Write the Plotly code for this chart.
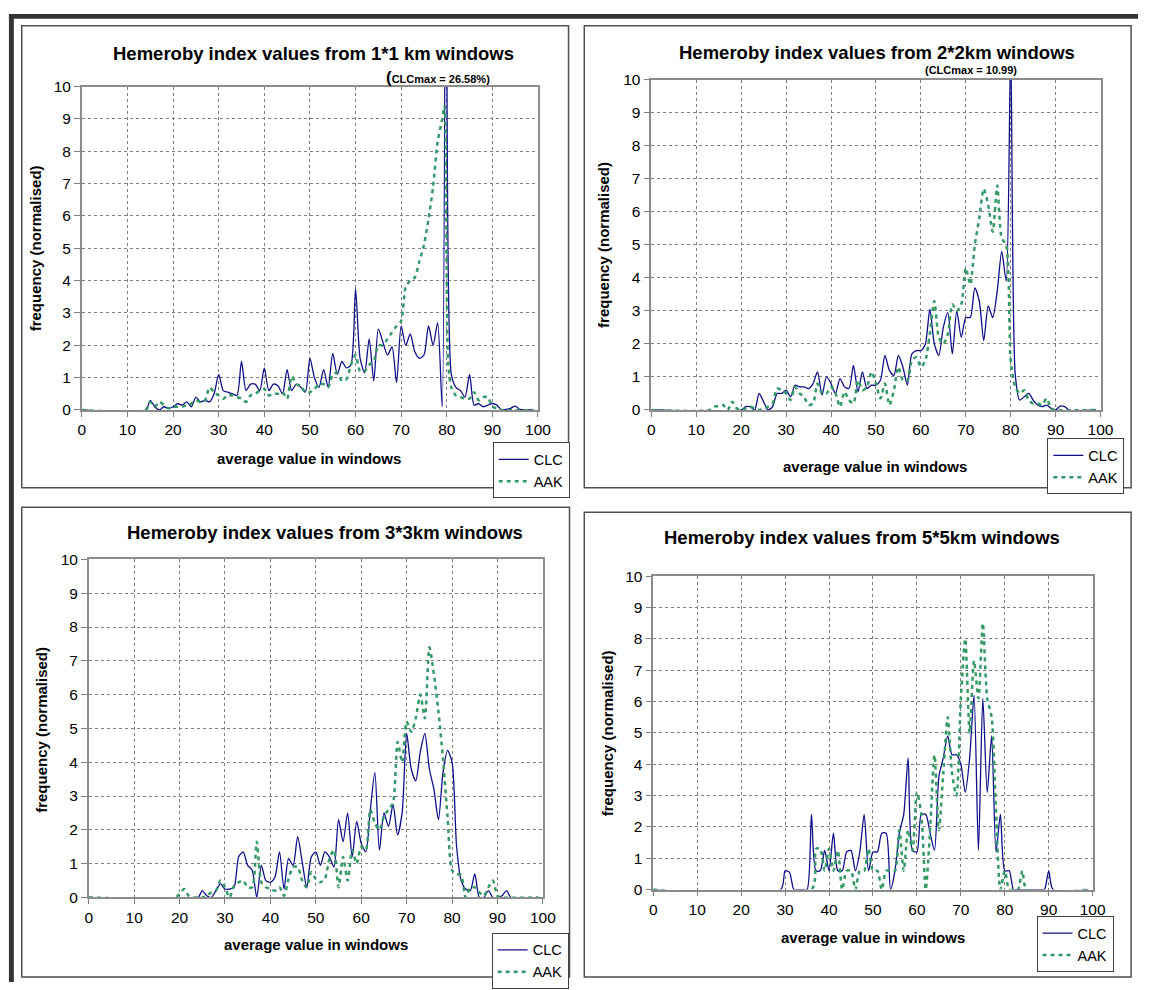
import plotly.graph_objects as go

# ---------------- data ----------------
# Panel 1: 1*1 km windows
p1_clc_x = [0] + list(range(14, 99)) + [99]
p1_clc_y = [0,
            0.0, 0.3, 0.1, 0.0, 0.1, 0.05,                              # 14-19
            0.1, 0.2, 0.15, 0.25, 0.1, 0.4, 0.25, 0.3, 0.25, 0.5,       # 20-29
            1.1, 0.6, 0.55, 0.5, 0.45, 1.5, 0.6, 0.8, 0.8, 0.6,         # 30-39
            1.3, 0.6, 0.8, 0.75, 0.5, 1.25, 0.6, 0.8, 0.7, 0.55,        # 40-49
            1.6, 1.0, 0.7, 1.25, 0.7, 1.75, 1.1, 1.5, 1.3, 1.4,         # 50-59
            3.75, 1.6, 1.15, 2.2, 0.9, 2.5, 2.1, 1.7, 1.95, 0.85,       # 60-69
            2.6, 2.0, 2.35, 1.8, 1.6, 1.7, 2.6, 2.0, 2.7, 0.1,          # 70-79
            26.58, 1.1, 0.7, 0.6, 0.4, 1.1, 0.15, 0.2, 0.1, 0.15,       # 80-89
            0.2, 0.15, 0.0, 0.02, 0.05, 0.12, 0.02, 0.0, 0.0,           # 90-98
            0]
p1_aak_x = ([0] + list(range(14, 79)) + [79, 79.5, 80.3] + list(range(81, 93)) + [99])
p1_aak_y = [0,
            0.0, 0.25, 0.1, 0.25, 0.15, 0.05,                           # 14-19
            0.1, 0.1, 0.1, 0.15, 0.2, 0.3, 0.25, 0.3, 0.7, 0.55,        # 20-29
            0.45, 0.35, 0.45, 0.45, 0.4, 0.35, 0.25, 0.45, 0.5, 0.6,    # 30-39
            0.65, 0.45, 0.5, 0.5, 0.55, 0.35, 1.05, 0.8, 0.75, 0.55,    # 40-49
            0.55, 0.65, 0.8, 0.8, 0.7, 1.1, 1.15, 0.9, 0.95, 1.4,       # 50-59
            1.7, 1.2, 1.2, 1.4, 1.5, 2.0, 2.0, 2.2, 2.4, 2.6,           # 60-69
            2.75, 3.8, 4.0, 4.1, 4.6, 5.1, 5.9, 6.9, 8.3,               # 70-78
            9.0, 9.4, 1.5,                                              # 79, 79.5, 80.3
            0.7, 0.45, 0.4, 0.35, 0.35, 0.55, 0.3, 0.4, 0.4, 0.1,       # 81-90
            0.05, 0.0,                                                  # 91-92
            0]

# Panel 2: 2*2 km windows
p2_clc_x = [0] + list(range(20, 94)) + [99]
p2_clc_y = [0,
            0.0, 0.1, 0.1, 0.0, 0.5, 0.25, 0.0, 0.1, 0.5, 0.5,          # 20-29
            0.6, 0.4, 0.75, 0.7, 0.7, 0.65, 0.8, 1.15, 0.45, 1.0,       # 30-39
            0.8, 0.5, 0.95, 0.7, 0.65, 1.35, 0.55, 1.15, 0.65, 0.75,    # 40-49
            0.75, 0.9, 1.65, 1.2, 1.05, 1.65, 1.3, 0.75, 1.7, 1.8,      # 50-59
            1.8, 2.0, 3.05, 2.0, 1.65, 2.5, 2.95, 1.7, 3.0, 2.2,        # 60-69
            2.8, 2.8, 3.7, 3.3, 2.1, 3.15, 2.8, 3.6, 4.8, 3.9,          # 70-79
            10.99, 1.1, 0.3, 0.4, 0.5, 0.3, 0.15, 0.1, 0.15, 0.05,      # 80-89
            0.0, 0.12, 0.1, 0.0,                                        # 90-93
            0]
p2_aak_x = [0] + list(range(13, 91)) + [99]
p2_aak_y = [0,
            0.0, 0.1, 0.12, 0.15, 0.0, 0.25, 0.05,                      # 13-19
            0.0, 0.05, 0.1, 0.05, 0.0, 0.05, 0.1, 0.2, 0.65, 0.6,       # 20-29
            0.5, 0.3, 0.7, 0.5, 0.4, 0.15, 0.2, 0.8, 0.5, 0.5,          # 30-39
            0.7, 0.5, 0.1, 0.55, 0.3, 0.2, 0.9, 0.6, 0.7, 1.15,         # 40-49
            0.8, 0.35, 0.8, 0.15, 0.6, 1.3, 0.9, 0.9, 1.5, 1.6,         # 50-59
            1.3, 1.5, 2.3, 3.3, 2.2, 2.0, 2.3, 3.2, 3.0, 3.2,           # 60-69
            4.3, 3.8, 5.0, 5.8, 6.7, 6.2, 5.4, 6.8, 5.2, 5.0,           # 70-79
            1.5, 0.7, 0.5, 0.6, 0.3, 0.2, 0.2, 0.15, 0.35, 0.05,        # 80-89
            0.0,                                                        # 90
            0]

# Panel 3: 3*3 km windows
p3_clc_x = [0] + list(range(24, 94)) + [99]
p3_clc_y = [0,
            0.0, 0.2, 0.05, 0.0, 0.2, 0.4,                              # 24-29
            0.25, 0.25, 0.3, 1.2, 1.35, 0.95, 0.8, 0.0, 0.95, 0.5,      # 30-39
            0.45, 0.6, 1.35, 0.25, 1.15, 0.95, 1.8, 1.05, 0.3, 1.2,     # 40-49
            1.35, 0.95, 1.35, 1.2, 0.9, 2.3, 1.65, 2.5, 1.2, 2.25,      # 50-59
            1.6, 1.35, 2.6, 3.7, 1.4, 2.5, 2.1, 2.75, 1.85, 2.5,        # 60-69
            4.85, 3.8, 3.45, 4.3, 4.85, 3.8, 3.2, 2.3, 3.7, 4.35,       # 70-79
            4.0, 1.5, 0.5, 0.25, 0.2, 0.7, 0.0, 0.0, 0.2, 0.0,          # 80-89
            0.0, 0.05, 0.2, 0.0,                                        # 90-93
            0]
p3_aak_x = [0] + list(range(19, 92)) + [99]
p3_aak_y = [0,
            0.0,                                                        # 19
            0.1, 0.25, 0.05, 0.0, 0.0, 0.0, 0.05, 0.15, 0.2, 0.5,       # 20-29
            0.3, 0.0, 0.35, 0.45, 0.5, 0.3, 0.3, 1.65, 0.45, 0.3,       # 30-39
            0.25, 0.2, 0.3, 0.05, 0.55, 0.9, 0.9, 0.5, 0.3, 0.75,       # 40-49
            0.55, 0.45, 0.55, 1.15, 1.4, 0.3, 1.2, 0.5, 1.4, 1.0,       # 50-59
            1.5, 1.4, 2.6, 2.2, 2.0, 2.4, 2.6, 2.8, 4.6, 4.0,           # 60-69
            5.2, 4.9, 5.3, 6.0, 5.3, 7.4, 6.6, 5.5, 4.1, 2.4,           # 70-79
            0.8, 0.7, 0.65, 0.0, 0.3, 0.3, 0.15, 0.05, 0.3, 0.5,        # 80-89
            0.05, 0.0,                                                  # 90-91
            0]

# Panel 4: 5*5 km windows
p4_clc_x = [0] + list(range(29, 92)) + [99]
p4_clc_y = [0,
            0.0,                                                        # 29
            0.6, 0.55, 0.0, 0.0, 0.0, 0.0, 2.4, 0.6, 0.6, 1.25,         # 30-39
            0.6, 1.8, 0.6, 0.6, 1.2, 1.25, 0.6, 1.2, 2.4, 0.6,          # 40-49
            1.2, 1.2, 1.8, 1.8, 0.0, 0.6, 1.8, 2.4, 4.2, 1.25,          # 50-59
            1.2, 2.4, 2.4, 1.8, 1.25, 3.6, 4.2, 4.9, 4.3, 4.3,          # 60-69
            4.0, 3.1, 4.2, 6.2, 1.25, 6.1, 3.1, 4.9, 1.2, 2.4,          # 70-79
            0.6, 0.6, 0.0, 0.0, 0.0, 0.0, 0.0, 0.0, 0.0, 0.0,           # 80-89
            0.6, 0.0,                                                   # 90-91
            0]
p4_aak_x = [0] + list(range(36, 86)) + [99]
p4_aak_y = [0,
            0.0, 1.3, 1.3, 0.6,                                         # 36-39
            1.3, 0.6, 1.25, 0.0, 0.6, 0.6, 0.0, 0.6, 0.6, 1.3,          # 40-49
            0.6, 0.6, 0.0, 0.6, 0.6, 0.6, 1.9, 0.6, 1.9, 1.25,          # 50-59
            3.1, 2.4, 0.0, 1.9, 4.3, 1.9, 3.7, 5.5, 3.7, 3.0,           # 60-69
            6.1, 8.0, 5.0, 7.3, 6.1, 8.5, 6.1, 5.5, 2.5, 0.0,           # 70-79
            0.6, 0.0, 0.0, 0.0, 0.6, 0.0,                               # 80-85
            0]

titles = ["Hemeroby index values from 1*1 km windows",
          "Hemeroby index values from 2*2km windows",
          "Hemeroby index values from 3*3km windows",
          "Hemeroby index values from 5*5km windows"]
clc_max_notes = ["<span style='font-size:17px'>(</span>CLCmax = 26.58%)",
                 "(CLCmax = 10.99)", None, None]
x_title = "average value in windows"
y_title = "frequency (normalised)"
series_names = ["CLC", "AAK"]

series = [(p1_clc_x, p1_clc_y, p1_aak_x, p1_aak_y),
          (p2_clc_x, p2_clc_y, p2_aak_x, p2_aak_y),
          (p3_clc_x, p3_clc_y, p3_aak_x, p3_aak_y),
          (p4_clc_x, p4_clc_y, p4_aak_x, p4_aak_y)]
for a, b, c, d in series:
    assert len(a) == len(b), (len(a), len(b))
    assert len(c) == len(d), (len(c), len(d))

# ---------------- layout (pixels) ----------------
W, H = 1151, 990
def fx(x):
    return x / W
def fy(y):
    return 1 - y / H

panels = [
    dict(plot=(79, 542, 79, 408), box=(18, 573, 17, 487), title=(314, 45),
         note=(440, 70), xt=(310, 457), yt=(32, 244), leg=(496, 441)),
    dict(plot=(657, 1113, 72, 408), box=(589, 1144, 17, 487), title=(886, 44),
         note=(981, 62), xt=(884, 465), yt=(609, 240), leg=(1059, 437)),
    dict(plot=(86, 547, 560, 904), box=(18, 574, 507, 985), title=(326, 533),
         note=None, xt=(317, 952), yt=(38, 733), leg=(495, 940)),
    dict(plot=(659, 1105, 577, 896), box=(589, 1144, 512, 985), title=(871, 538),
         note=None, xt=(882, 945), yt=(612, 737), leg=(1048, 923)),
]

FONT = "Arial, 'Liberation Sans', sans-serif"
CLC_COLOR = "#10108a"
AAK_COLOR = "#339966"

fig = go.Figure()
annotations = []
shapes = []

# dark frame bands
shapes.append(dict(type="rect", xref="paper", yref="paper", x0=fx(5), x1=1, y0=fy(10), y1=fy(5),
                   fillcolor="#333333", line=dict(width=0), layer="below"))
shapes.append(dict(type="rect", xref="paper", yref="paper", x0=fx(5), x1=fx(10), y0=0, y1=fy(5),
                   fillcolor="#333333", line=dict(width=0), layer="below"))

for i, (p, s) in enumerate(zip(panels, series), start=1):
    sfx = "" if i == 1 else str(i)
    x0, x1, y0, y1 = p["plot"]
    cx, cy, ax_, ay_ = s
    fig.add_trace(go.Scatter(x=cx, y=cy, mode="lines", name=series_names[0],
                             line=dict(color=CLC_COLOR, width=1.3, shape="spline", smoothing=0.7),
                             xaxis="x" + sfx, yaxis="y" + sfx, legend="legend" + sfx))
    fig.add_trace(go.Scatter(x=ax_, y=ay_, mode="lines", name=series_names[1],
                             line=dict(color=AAK_COLOR, width=2.5, dash="4px,4px",
                                       shape="spline", smoothing=0.7),
                             xaxis="x" + sfx, yaxis="y" + sfx, legend="legend" + sfx))
    common = dict(showgrid=True, gridcolor="#7f7f7f", griddash="dot", gridwidth=1,
                  showline=True, mirror=True, linecolor="#8c8c8c", linewidth=1.5,
                  ticks="outside", tickcolor="#808080", tickwidth=1,
                  tickfont=dict(family=FONT, size=15.5, color="#000000"),
                  zeroline=False, fixedrange=True)
    fig.update_layout(**{
        "xaxis" + sfx: dict(domain=[fx(x0), fx(x1)], range=[0, 100], tick0=0, dtick=10,
                            anchor="y" + sfx, ticklen=5, **common),
        "yaxis" + sfx: dict(domain=[fy(y1), fy(y0)], range=[0, 10], tick0=0, dtick=1,
                            anchor="x" + sfx, ticklen=6, **common),
        "legend" + sfx: dict(x=fx(p["leg"][0]), y=fy(p["leg"][1]), xanchor="left", yanchor="top",
                             bgcolor="#ffffff", bordercolor="#404040", borderwidth=1,
                             font=dict(family=FONT, size=14.5, color="#000000"),
                             tracegroupgap=0, itemwidth=30),
    })
    bx0, bx1, by0, by1 = p["box"]
    shapes.append(dict(type="rect", xref="paper", yref="paper", x0=fx(bx0), x1=fx(bx1),
                       y0=fy(by1), y1=fy(by0), line=dict(color="#505050", width=1.5),
                       fillcolor="rgba(0,0,0,0)", layer="below"))
    annotations.append(dict(text="<b>%s</b>" % titles[i - 1], x=fx(p["title"][0]), y=fy(p["title"][1]),
                            xref="paper", yref="paper", showarrow=False, xanchor="center",
                            yanchor="middle", font=dict(family=FONT, size=18.5, color="#000000")))
    if p["note"] is not None:
        annotations.append(dict(text="<b>%s</b>" % clc_max_notes[i - 1], x=fx(p["note"][0]),
                                y=fy(p["note"][1]), xref="paper", yref="paper", showarrow=False,
                                xanchor="center", yanchor="middle",
                                font=dict(family=FONT, size=11, color="#000000")))
    annotations.append(dict(text="<b>%s</b>" % x_title, x=fx(p["xt"][0]), y=fy(p["xt"][1]),
                            xref="paper", yref="paper", showarrow=False, xanchor="center",
                            yanchor="middle", font=dict(family=FONT, size=15, color="#000000")))
    annotations.append(dict(text="<b>%s</b>" % y_title, x=fx(p["yt"][0]), y=fy(p["yt"][1]),
                            xref="paper", yref="paper", showarrow=False, xanchor="center",
                            yanchor="middle", textangle=-90,
                            font=dict(family=FONT, size=15, color="#000000")))

fig.update_layout(width=W, height=H, margin=dict(l=0, r=0, t=0, b=0),
                  paper_bgcolor="#ffffff", plot_bgcolor="#ffffff",
                  annotations=annotations, shapes=shapes, showlegend=True,
                  font=dict(family=FONT))

fig.write_html("out.html")
